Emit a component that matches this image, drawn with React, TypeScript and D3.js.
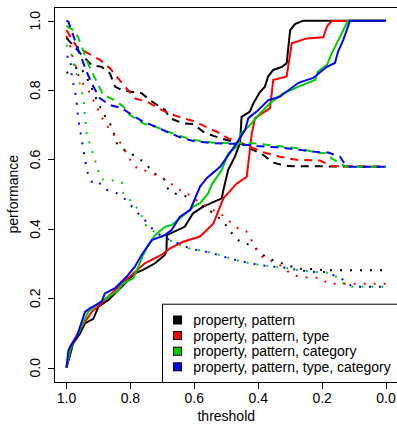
import React from 'react';
import * as d3 from 'd3';

type P = [number, number];

const W = 397;
const H = 424;

const xTicks = [1.0, 0.8, 0.6, 0.4, 0.2, 0.0];
const yTicks = [0.0, 0.2, 0.4, 0.6, 0.8, 1.0];
const seriesNames = [
  'property, pattern',
  'property, pattern, type',
  'property, pattern, category',
  'property, pattern, type, category',
];
const seriesColors = ['#000000', '#FF0000', '#00CD00', '#0000FF'];

// [threshold, performance]
const blackSolid: P[] = [
  [1.0, 0], [0.979, 0.07], [0.958, 0.098], [0.942, 0.128], [0.916, 0.141], [0.9, 0.176],
  [0.869, 0.195], [0.827, 0.233], [0.786, 0.272], [0.76, 0.282], [0.723, 0.301], [0.692, 0.325],
  [0.687, 0.339], [0.686, 0.382], [0.63, 0.406], [0.604, 0.445], [0.572, 0.464], [0.514, 0.488],
  [0.509, 0.512], [0.494, 0.57], [0.473, 0.608], [0.457, 0.647], [0.452, 0.723], [0.426, 0.738],
  [0.415, 0.762], [0.394, 0.795], [0.379, 0.81], [0.369, 0.839], [0.353, 0.858], [0.326, 0.867],
  [0.311, 0.877], [0.3, 0.973], [0.285, 0.99], [0.259, 1.0], [0.0, 1.0],
];
const redSolid: P[] = [
  [1.0, 0], [0.989, 0.061], [0.952, 0.118], [0.921, 0.161], [0.885, 0.19], [0.838, 0.233],
  [0.802, 0.262], [0.755, 0.301], [0.703, 0.325], [0.676, 0.344], [0.635, 0.363], [0.582, 0.378],
  [0.54, 0.416], [0.509, 0.488], [0.467, 0.531], [0.436, 0.55], [0.426, 0.627], [0.42, 0.676],
  [0.41, 0.719], [0.363, 0.748], [0.353, 0.829], [0.311, 0.839], [0.295, 0.935], [0.248, 0.949],
  [0.196, 0.952], [0.185, 0.983], [0.17, 0.999], [0.0, 1.0],
];
const greenSolid: P[] = [
  [1.0, 0], [0.989, 0.051], [0.963, 0.099], [0.932, 0.161], [0.9, 0.186], [0.869, 0.205],
  [0.843, 0.219], [0.822, 0.243], [0.791, 0.258], [0.775, 0.291], [0.76, 0.325], [0.749, 0.345],
  [0.723, 0.382], [0.692, 0.406], [0.671, 0.411], [0.639, 0.435], [0.603, 0.464], [0.582, 0.474],
  [0.556, 0.503], [0.546, 0.527], [0.514, 0.57], [0.494, 0.618], [0.467, 0.637], [0.452, 0.676],
  [0.426, 0.699], [0.394, 0.733], [0.363, 0.762], [0.321, 0.791], [0.274, 0.81], [0.222, 0.829],
  [0.213, 0.853], [0.185, 0.872], [0.17, 0.906], [0.149, 0.944], [0.128, 0.983], [0.118, 1.0],
  [0.0, 1.0],
];
const blueSolid: P[] = [
  [1.0, 0], [0.994, 0.051], [0.968, 0.089], [0.942, 0.161], [0.927, 0.171], [0.89, 0.19],
  [0.88, 0.214], [0.848, 0.229], [0.812, 0.262], [0.786, 0.291], [0.765, 0.325], [0.733, 0.368],
  [0.692, 0.382], [0.671, 0.397], [0.645, 0.435], [0.613, 0.454], [0.582, 0.522], [0.561, 0.546],
  [0.519, 0.579], [0.467, 0.648], [0.441, 0.685], [0.431, 0.719], [0.405, 0.738], [0.368, 0.771],
  [0.332, 0.781], [0.274, 0.821], [0.228, 0.835], [0.185, 0.867], [0.16, 0.878], [0.15, 0.911],
  [0.134, 0.944], [0.119, 0.983], [0.113, 1.0], [0.0, 1.0],
];

const blackDashed: P[] = [
  [1.0, 0.95], [0.989, 0.939], [0.952, 0.901], [0.921, 0.872], [0.89, 0.867], [0.864, 0.848],
  [0.848, 0.81], [0.827, 0.8], [0.796, 0.795], [0.765, 0.791], [0.733, 0.767], [0.692, 0.743],
  [0.676, 0.719], [0.635, 0.704], [0.603, 0.702], [0.572, 0.68], [0.54, 0.668], [0.499, 0.656],
  [0.457, 0.647], [0.384, 0.613], [0.353, 0.591], [0.311, 0.581], [0.0, 0.579],
];
const redDashed: P[] = [
  [1.0, 0.973], [0.994, 0.964], [0.968, 0.925], [0.932, 0.906], [0.895, 0.887], [0.864, 0.863],
  [0.838, 0.834], [0.812, 0.805], [0.786, 0.776], [0.749, 0.767], [0.713, 0.748], [0.681, 0.733],
  [0.645, 0.722], [0.603, 0.711], [0.53, 0.68], [0.494, 0.661], [0.462, 0.651], [0.389, 0.622],
  [0.332, 0.608], [0.28, 0.599], [0.207, 0.597], [0.17, 0.581], [0.0, 0.579],
];
const greenDashed: P[] = [
  [1.0, 0.985], [0.971, 0.968], [0.952, 0.925], [0.937, 0.887], [0.921, 0.853], [0.905, 0.824],
  [0.885, 0.786], [0.848, 0.771], [0.822, 0.752], [0.801, 0.728], [0.76, 0.704], [0.723, 0.695],
  [0.681, 0.68], [0.613, 0.658], [0.54, 0.648], [0.467, 0.647], [0.415, 0.647], [0.342, 0.639],
  [0.274, 0.632], [0.217, 0.62], [0.185, 0.618], [0.17, 0.603], [0.144, 0.589], [0.123, 0.579],
  [0.0, 0.579],
];
const blueDashed: P[] = [
  [1.0, 1.0], [0.994, 0.997], [0.963, 0.916], [0.937, 0.853], [0.916, 0.81], [0.895, 0.776],
  [0.864, 0.757], [0.827, 0.748], [0.786, 0.723], [0.76, 0.709], [0.723, 0.695], [0.686, 0.68],
  [0.65, 0.666], [0.603, 0.653], [0.54, 0.647], [0.467, 0.645], [0.405, 0.639], [0.342, 0.635],
  [0.305, 0.632], [0.264, 0.627], [0.222, 0.622], [0.181, 0.62], [0.144, 0.608], [0.134, 0.594],
  [0.118, 0.579], [0.0, 0.579],
];

const blackDotted: P[] = [
  [1.0, 0.849], [0.983, 0.858], [0.958, 0.869], [0.933, 0.829], [0.916, 0.795], [0.905, 0.771],
  [0.885, 0.733], [0.864, 0.704], [0.848, 0.666], [0.843, 0.647], [0.812, 0.622], [0.791, 0.613],
  [0.76, 0.594], [0.744, 0.579], [0.718, 0.555], [0.692, 0.541], [0.681, 0.512], [0.666, 0.503],
  [0.624, 0.493], [0.572, 0.464], [0.54, 0.445], [0.509, 0.421], [0.494, 0.402], [0.478, 0.382],
  [0.457, 0.363], [0.426, 0.354], [0.4, 0.339], [0.373, 0.315], [0.342, 0.307], [0.31, 0.295],
  [0.268, 0.285], [0.226, 0.284], [0.195, 0.281], [0.0, 0.281],
];
const redDotted: P[] = [
  [1.0, 0.956], [0.989, 0.93], [0.984, 0.906], [0.958, 0.829], [0.932, 0.8], [0.916, 0.771],
  [0.885, 0.714], [0.864, 0.685], [0.843, 0.661], [0.822, 0.637], [0.806, 0.603], [0.791, 0.593],
  [0.78, 0.575], [0.76, 0.57], [0.739, 0.562], [0.718, 0.555], [0.697, 0.546], [0.676, 0.531],
  [0.65, 0.517], [0.635, 0.503], [0.613, 0.498], [0.582, 0.474], [0.556, 0.464], [0.54, 0.454],
  [0.519, 0.445], [0.494, 0.426], [0.473, 0.406], [0.457, 0.4], [0.438, 0.394], [0.426, 0.378],
  [0.414, 0.352], [0.398, 0.329], [0.383, 0.316], [0.352, 0.305], [0.32, 0.29], [0.3, 0.271],
  [0.268, 0.261], [0.206, 0.259], [0.18, 0.242], [0.0, 0.242],
];
const greenDotted: P[] = [
  [1.0, 0.93], [0.986, 0.908], [0.973, 0.858], [0.963, 0.834], [0.947, 0.777], [0.942, 0.723],
  [0.937, 0.675], [0.921, 0.627], [0.911, 0.599], [0.9, 0.565], [0.89, 0.543], [0.869, 0.541],
  [0.848, 0.539], [0.827, 0.535], [0.822, 0.503], [0.801, 0.483], [0.77, 0.45], [0.749, 0.406],
  [0.733, 0.397], [0.702, 0.377], [0.66, 0.36], [0.629, 0.347], [0.603, 0.341], [0.572, 0.337],
  [0.54, 0.33], [0.509, 0.322], [0.478, 0.312], [0.436, 0.303], [0.394, 0.296], [0.363, 0.293],
  [0.321, 0.289], [0.28, 0.282], [0.226, 0.276], [0.195, 0.276], [0.174, 0.271], [0.153, 0.261],
  [0.132, 0.242], [0.112, 0.233], [0.0, 0.233],
];
const blueDotted: P[] = [
  [1.0, 0.896], [0.989, 0.896], [0.984, 0.848], [0.979, 0.82], [0.973, 0.795], [0.968, 0.762],
  [0.963, 0.714], [0.952, 0.656], [0.942, 0.599], [0.932, 0.555], [0.921, 0.536], [0.905, 0.541],
  [0.88, 0.514], [0.864, 0.51], [0.843, 0.503], [0.812, 0.483], [0.786, 0.454], [0.76, 0.431],
  [0.733, 0.402], [0.702, 0.378], [0.66, 0.362], [0.629, 0.349], [0.603, 0.341], [0.572, 0.336],
  [0.54, 0.329], [0.509, 0.32], [0.478, 0.312], [0.436, 0.303], [0.394, 0.296], [0.363, 0.292],
  [0.321, 0.289], [0.28, 0.282], [0.226, 0.276], [0.195, 0.276], [0.174, 0.271], [0.153, 0.261],
  [0.138, 0.256], [0.122, 0.242], [0.101, 0.233], [0.0, 0.233],
];

const solidSeries = [blackSolid, redSolid, greenSolid, blueSolid];
const dashedSeries = [blackDashed, redDashed, greenDashed, blueDashed];
const dottedSeries = [blackDotted, redDotted, greenDotted, blueDotted];

const FONT = '"Liberation Sans", Arial, Helvetica, sans-serif';

export default function App() {
  const x = d3.scaleLinear().domain([1.04, -0.04]).range([53.7, 398.8]);
  const y = d3.scaleLinear().domain([-0.04, 1.04]).range([381.6, 6.8]);
  const line = d3.line<P>().x((d) => x(d[0])).y((d) => y(d[1]));

  const left = x(1.04);
  const right = x(-0.04);
  const top = y(1.04);
  const bottom = y(-0.04);

  const legLeft = 162;
  const legTop = 303.7;
  const legRowY = (i: number) => 320 + i * 15.6;

  return (
    <svg
      width={W}
      height={H}
      style={{ position: 'absolute', left: 0, top: 0, background: '#fff' }}
      fontFamily={FONT}
    >
      <rect x={0} y={0} width={W} height={H} fill="#fff" />
      <g>
        {seriesColors.map((c, i) => (
          <g key={i}>
            <path d={line(solidSeries[i]) || ''} fill="none" stroke={c} strokeWidth={2} />
            <path d={line(dashedSeries[i]) || ''} fill="none" stroke={c} strokeWidth={2} strokeDasharray="8,6" />
            <path d={line(dottedSeries[i]) || ''} fill="none" stroke={c} strokeWidth={2} strokeDasharray="2,8" />
          </g>
        ))}
      </g>
      {/* box */}
      <rect x={Math.round(left) + 0.5} y={Math.round(top) + 0.5} width={right - left} height={Math.round(bottom) - Math.round(top)} fill="none" stroke="#000" strokeWidth={1} />
      {/* x axis */}
      {xTicks.map((t) => (
        <g key={'x' + t}>
          <line x1={Math.round(x(t)) + 0.5} x2={Math.round(x(t)) + 0.5} y1={Math.round(bottom) + 0.5} y2={Math.round(bottom) + 7} stroke="#000" />
          <text x={x(t)} y={402.5} fontSize={14} textAnchor="middle">{t.toFixed(1)}</text>
        </g>
      ))}
      {yTicks.map((t) => (
        <g key={'y' + t}>
          <line x1={Math.round(left) + 0.5} x2={Math.round(left) - 6} y1={Math.round(y(t)) + 0.5} y2={Math.round(y(t)) + 0.5} stroke="#000" />
          <text transform={`translate(40,${y(t)}) rotate(-90)`} fontSize={14} textAnchor="middle">{t.toFixed(1)}</text>
        </g>
      ))}
      <text x={(left + right) / 2} y={421} fontSize={14} textAnchor="middle">threshold</text>
      <text transform={`translate(17.5,${(top + bottom) / 2}) rotate(-90)`} fontSize={14} textAnchor="middle">performance</text>
      {/* legend */}
      <rect x={legLeft + 0.5} y={legTop + 0.5} width={right - legLeft} height={Math.round(bottom) - legTop} fill="#fff" stroke="#000" />
      {seriesNames.map((n, i) => (
        <g key={n}>
          <rect x={173.5} y={legRowY(i) - 4} width={8} height={8} fill={seriesColors[i]} stroke="#000" strokeWidth={1} />
          <text x={193.3} y={legRowY(i) + 5} fontSize={14}>{n}</text>
        </g>
      ))}
    </svg>
  );
}
